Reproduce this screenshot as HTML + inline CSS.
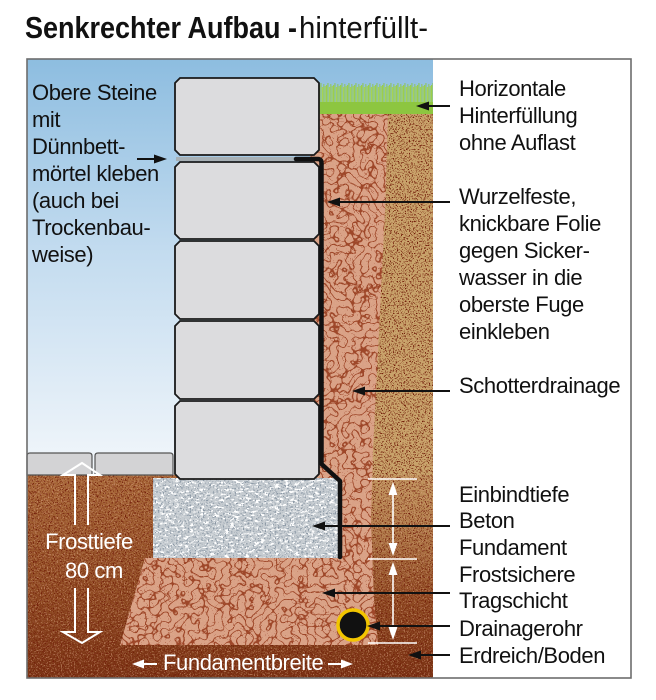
<!DOCTYPE html>
<html><head><meta charset="utf-8"><style>
html,body{margin:0;padding:0;background:#fff;}
svg{display:block;}
text{font-family:"Liberation Sans",Arial,sans-serif;}
</style></head><body>
<svg width="656" height="700" viewBox="0 0 656 700" xmlns="http://www.w3.org/2000/svg">
<defs>
<linearGradient id="sky" x1="0" y1="59" x2="0" y2="478" gradientUnits="userSpaceOnUse">
<stop offset="0" stop-color="#8dbde0"/><stop offset="0.45" stop-color="#c2dbef"/><stop offset="1" stop-color="#f3f7fb"/>
</linearGradient>
<linearGradient id="soil" x1="0" y1="475" x2="0" y2="678" gradientUnits="userSpaceOnUse">
<stop offset="0" stop-color="#a9693a"/><stop offset="0.6" stop-color="#8f4a22"/><stop offset="1" stop-color="#7a3314"/>
</linearGradient>
<linearGradient id="tanfade" x1="0" y1="470" x2="0" y2="600" gradientUnits="userSpaceOnUse">
<stop offset="0" stop-color="#c9a36b" stop-opacity="0.8"/><stop offset="1" stop-color="#c9a36b" stop-opacity="0"/>
</linearGradient>
<pattern id="grass" x="319" y="83" width="7" height="20" patternUnits="userSpaceOnUse">
<rect x="0" y="2" width="1.1" height="18" fill="#9ccf4a"/>
<rect x="1.5" y="0" width="0.9" height="20" fill="#8cc540"/>
<rect x="2.9" y="4" width="1.2" height="16" fill="#a6d452"/>
<rect x="4.4" y="1" width="0.9" height="19" fill="#90c844"/>
<rect x="5.7" y="3" width="1" height="17" fill="#9ccf4a"/>
</pattern>
<filter id="fDark" filterUnits="userSpaceOnUse" x="0" y="0" width="656" height="700" color-interpolation-filters="sRGB">
<feTurbulence type="fractalNoise" baseFrequency="0.75" numOctaves="2" seed="7"/>
<feColorMatrix type="matrix" values="0 0 0 0 0.45  0 0 0 0 0.12  0 0 0 0 0.04  12 0 0 0 -6.8"/>
<feComposite in2="SourceGraphic" operator="in"/>
</filter>
<filter id="fLight" filterUnits="userSpaceOnUse" x="0" y="0" width="656" height="700" color-interpolation-filters="sRGB">
<feTurbulence type="fractalNoise" baseFrequency="0.7" numOctaves="2" seed="11"/>
<feColorMatrix type="matrix" values="0 0 0 0 0.88  0 0 0 0 0.68  0 0 0 0 0.55  0 12 0 0 -7"/>
<feComposite in2="SourceGraphic" operator="in"/>
</filter>
<filter id="fCrack" filterUnits="userSpaceOnUse" x="0" y="0" width="656" height="700" color-interpolation-filters="sRGB">
<feTurbulence type="turbulence" baseFrequency="0.13" numOctaves="1" seed="4"/>
<feColorMatrix type="matrix" values="0 0 0 0 0.62  0 0 0 0 0.28  0 0 0 0 0.16  -24 0 0 0 1.9"/>
<feComposite in2="SourceGraphic" operator="in"/>
</filter>
<filter id="fConc" filterUnits="userSpaceOnUse" x="0" y="0" width="656" height="700" color-interpolation-filters="sRGB">
<feTurbulence type="fractalNoise" baseFrequency="0.2 0.45" numOctaves="2" seed="9"/>
<feColorMatrix type="matrix" values="0 0 0 0 1  0 0 0 0 1  0 0 0 0 1  10 0 0 0 -5.4"/>
<feComposite in2="SourceGraphic" operator="in"/>
</filter>
<filter id="fConcDark" filterUnits="userSpaceOnUse" x="0" y="0" width="656" height="700" color-interpolation-filters="sRGB">
<feTurbulence type="fractalNoise" baseFrequency="0.6" numOctaves="2" seed="3"/>
<feColorMatrix type="matrix" values="0 0 0 0 0.55  0 0 0 0 0.6  0 0 0 0 0.65  0 0 12 0 -7"/>
<feComposite in2="SourceGraphic" operator="in"/>
</filter>
</defs>

<rect width="656" height="700" fill="#fff"/>

<!-- title -->
<text x="25" y="38" font-size="31" font-weight="bold" fill="#111" textLength="272" lengthAdjust="spacingAndGlyphs">Senkrechter Aufbau -</text>
<text x="299" y="38" font-size="31" fill="#111" textLength="129" lengthAdjust="spacingAndGlyphs">hinterfüllt-</text>

<!-- sky -->
<rect x="27" y="59" width="406" height="420" fill="url(#sky)"/>

<!-- tan column -->
<rect x="370" y="114" width="63" height="366" fill="#c9a36b"/>
<rect x="370" y="114" width="63" height="366" fill="#000" filter="url(#fDark)"/>

<!-- soil -->
<rect x="27" y="475" width="406" height="203" fill="url(#soil)"/>
<rect x="370" y="475" width="63" height="130" fill="url(#tanfade)"/>
<rect x="27" y="475" width="406" height="203" fill="#000" filter="url(#fDark)"/>
<rect x="27" y="475" width="406" height="203" fill="#000" filter="url(#fLight)" opacity="0.5"/>

<!-- gravel -->
<polygon points="310,114 388,114 385,210 379,330 373,450 371,520 374,600 378,645 120,645 145,558 153,558 153,478 310,478" fill="#d9a186"/>
<polygon points="310,114 388,114 385,210 379,330 373,450 371,520 374,600 378,645 120,645 145,558 153,558 153,478 310,478" fill="#000" filter="url(#fLight)" opacity="0.6"/>
<polygon points="310,114 388,114 385,210 379,330 373,450 371,520 374,600 378,645 120,645 145,558 153,558 153,478 310,478" fill="#000" filter="url(#fCrack)"/>

<!-- concrete -->
<rect x="153" y="478" width="187" height="80" fill="#c6ccd1"/>
<rect x="153" y="478" width="187" height="80" fill="#000" filter="url(#fConc)"/>
<rect x="153" y="478" width="187" height="80" fill="#000" filter="url(#fConcDark)"/>

<!-- grass -->
<rect x="319" y="83" width="114" height="20" fill="url(#grass)"/>
<rect x="319" y="102" width="114" height="12" fill="#8dc640"/>

<!-- stones -->
<g fill="#dcdcde" stroke="#1a1a1a" stroke-width="1.8">
<path d="M180,78 L314,78 L319,83 L319,150 L314,155 L180,155 L175,150 L175,83 Z"/>
<path d="M180,162 L314,162 L319,167 L319,234 L314,239 L180,239 L175,234 L175,167 Z"/>
<path d="M180,241 L314,241 L319,246 L319,314 L314,319 L180,319 L175,314 L175,246 Z"/>
<path d="M180,321 L314,321 L319,326 L319,394 L314,399 L180,399 L175,394 L175,326 Z"/>
<path d="M180,401 L314,401 L319,406 L319,474 L314,479 L180,479 L175,474 L175,406 Z"/>
</g>
<!-- mortar -->
<rect x="176" y="157" width="121" height="4" fill="#a7b0b5"/>
<!-- foil -->
<path d="M296,159 L318,159 Q321.5,159 321.5,163 L321.5,464 L340,481 L340,557" fill="none" stroke="#111" stroke-width="4.5" stroke-linejoin="round" stroke-linecap="round"/>

<!-- paving -->
<g fill="#d3d3d5" stroke="#555" stroke-width="1.2">
<path d="M27,475 L27,456 Q27,453 30,453 L89,453 Q92,453 92,456 L92,475 Z"/>
<path d="M95,475 L95,456 Q95,453 98,453 L170,453 Q173,453 173,456 L173,475 Z"/>
</g>

<!-- pipe -->
<circle cx="353" cy="625" r="15" fill="#111" stroke="#f2c500" stroke-width="3.5"/>

<!-- dimension lines -->
<g stroke="#fff" stroke-width="1.6" fill="#fff">
<line x1="368" y1="479" x2="417" y2="479"/>
<line x1="368" y1="559" x2="417" y2="559"/>
<line x1="368" y1="643" x2="417" y2="643"/>
<line x1="393" y1="490" x2="393" y2="548"/>
<line x1="393" y1="570" x2="393" y2="632"/>
</g>
<g fill="#fff">
<polygon points="393,482 388.5,495 397.5,495"/>
<polygon points="393,556 388.5,543 397.5,543"/>
<polygon points="393,562 388.5,575 397.5,575"/>
<polygon points="393,640 388.5,627 397.5,627"/>
</g>

<!-- frost arrows -->
<g fill="none" stroke="#fff" stroke-width="2" stroke-linejoin="miter">
<polyline points="75,525 75,475 63,475 82,463 100,475 88,475 88,525"/>
<polyline points="75,588 75,632 63,632 82,643 100,632 88,632 88,588"/>
</g>
<g fill="#fff" font-size="22" letter-spacing="-0.4" text-anchor="middle">
<text x="89" y="549">Frosttiefe</text>
<text x="94" y="578">80 cm</text>
</g>

<!-- Fundamentbreite -->
<g stroke="#fff" stroke-width="2"><line x1="140" y1="664" x2="157" y2="664"/><line x1="328" y1="664" x2="345" y2="664"/></g>
<g fill="#fff"><polygon points="132,664 144,659.5 144,668.5"/><polygon points="353,664 341,659.5 341,668.5"/></g>
<text x="163" y="670" font-size="22" letter-spacing="-0.4" fill="#fff">Fundamentbreite</text>

<!-- frame -->
<rect x="27" y="59" width="604" height="619" fill="none" stroke="#6d6d6d" stroke-width="1.6"/>

<!-- leader lines -->
<g stroke="#111" stroke-width="2">
<line x1="426" y1="106" x2="450" y2="106"/>
<line x1="337" y1="202" x2="450" y2="202"/>
<line x1="362" y1="391" x2="450" y2="391"/>
<line x1="322" y1="526" x2="450" y2="526"/>
<line x1="332" y1="593" x2="450" y2="593"/>
<line x1="377" y1="626" x2="450" y2="626"/>
<line x1="418" y1="655" x2="450" y2="655"/>
<line x1="137" y1="159" x2="157" y2="159"/>
</g>
<g fill="#111">
<polygon points="416,106 429,101.5 429,110.5"/>
<polygon points="327,202 340,197.5 340,206.5"/>
<polygon points="352,391 365,386.5 365,395.5"/>
<polygon points="312,526 325,521.5 325,530.5"/>
<polygon points="322,593 335,588.5 335,597.5"/>
<polygon points="367,626 380,621.5 380,630.5"/>
<polygon points="408,655 421,650.5 421,659.5"/>
<polygon points="167,159 154,154.5 154,163.5"/>
</g>

<!-- left labels -->
<g fill="#111" font-size="22" letter-spacing="-0.4">
<text x="32" y="100">Obere Steine</text>
<text x="32" y="127">mit</text>
<text x="32" y="154">Dünnbett-</text>
<text x="32" y="181">mörtel kleben</text>
<text x="32" y="208">(auch bei</text>
<text x="32" y="235">Trockenbau-</text>
<text x="32" y="262">weise)</text>
</g>

<!-- right labels -->
<g fill="#111" font-size="22" letter-spacing="-0.4">
<text x="459" y="96">Horizontale</text>
<text x="459" y="123">Hinterfüllung</text>
<text x="459" y="150">ohne Auflast</text>
<text x="459" y="204">Wurzelfeste,</text>
<text x="459" y="231">knickbare Folie</text>
<text x="459" y="258">gegen Sicker-</text>
<text x="459" y="285">wasser in die</text>
<text x="459" y="312">oberste Fuge</text>
<text x="459" y="339">einkleben</text>
<text x="459" y="393">Schotterdrainage</text>
<text x="459" y="502">Einbindtiefe</text>
<text x="459" y="528">Beton</text>
<text x="459" y="555">Fundament</text>
<text x="459" y="582">Frostsichere</text>
<text x="459" y="608">Tragschicht</text>
<text x="459" y="636">Drainagerohr</text>
<text x="459" y="663">Erdreich/Boden</text>
</g>
</svg>
</body></html>
